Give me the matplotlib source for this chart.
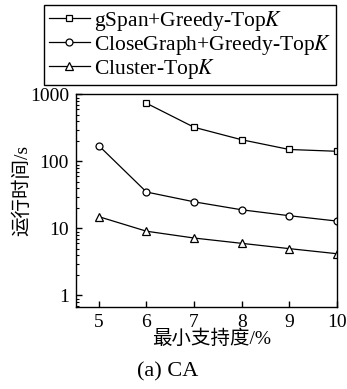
import matplotlib.pyplot as plt
from matplotlib.ticker import FixedLocator, LogLocator, NullFormatter

plt.rcParams['font.family'] = ['Liberation Serif', 'Noto Sans CJK SC']
plt.rcParams['mathtext.fontset'] = 'stix'

support = [5, 6, 7, 8, 9, 10]
gspan_x = [6, 7, 8, 9, 10]
gspan = [740, 324, 211, 151, 142]
closegraph = [172, 35, 25, 19, 15.5, 12.9]
cluster = [15, 9.1, 7.2, 6.0, 5.0, 4.2]

labels = [r'gSpan+Greedy-Top$K$', r'CloseGraph+Greedy-Top$K$', r'Cluster-Top$K$']

fig = plt.figure(figsize=(3.47, 3.89), dpi=100)
ax = fig.add_axes([0.219, 0.2116, 0.752, 0.5455])

style = dict(color='black', lw=0.9, mfc='white', mec='black', mew=0.9)
l1, = ax.plot(gspan_x, gspan, marker='s', ms=4.6, **style)
l2, = ax.plot(support, closegraph, marker='o', ms=5.0, **style)
l3, = ax.plot(support, cluster, marker='^', ms=5.6, **style)

ax.set_yscale('log')
ax.set_xlim(4.52, 10)
ax.set_ylim(0.68, 1000)
ax.set_xticks(support)
ax.yaxis.set_major_locator(FixedLocator([1, 10, 100, 1000]))
ax.set_yticklabels(['1', '10', '100', '1000'])
ax.yaxis.set_minor_locator(LogLocator(base=10, subs=range(2, 10)))
ax.yaxis.set_minor_formatter(NullFormatter())
ax.tick_params(axis='both', which='major', direction='in', labelsize=14,
               length=4, width=1, top=False, right=False, pad=5)
ax.tick_params(axis='y', which='minor', direction='in', length=2, width=0.8, right=False)
for s in ax.spines.values():
    s.set_linewidth(1.0)

ax.set_xlabel('最小支持度/%', fontsize=14)
ax.xaxis.set_label_coords(0.52, -0.11)
ax.set_ylabel('运行时间/s', fontsize=14)
ax.yaxis.set_label_coords(-0.17, 0.55)

fig.legend([l1, l2, l3], labels, loc='upper right', bbox_to_anchor=(0.967, 0.988),
           fontsize=15.5, frameon=True, fancybox=False, edgecolor='black',
           framealpha=1, handlelength=1.9, handletextpad=0.2, labelspacing=0.0,
           borderpad=0.2, borderaxespad=0)

fig.text(0.484, 0.044, '(a) CA', ha='center', va='center', fontsize=16)

fig.savefig('out.png', dpi=100)
